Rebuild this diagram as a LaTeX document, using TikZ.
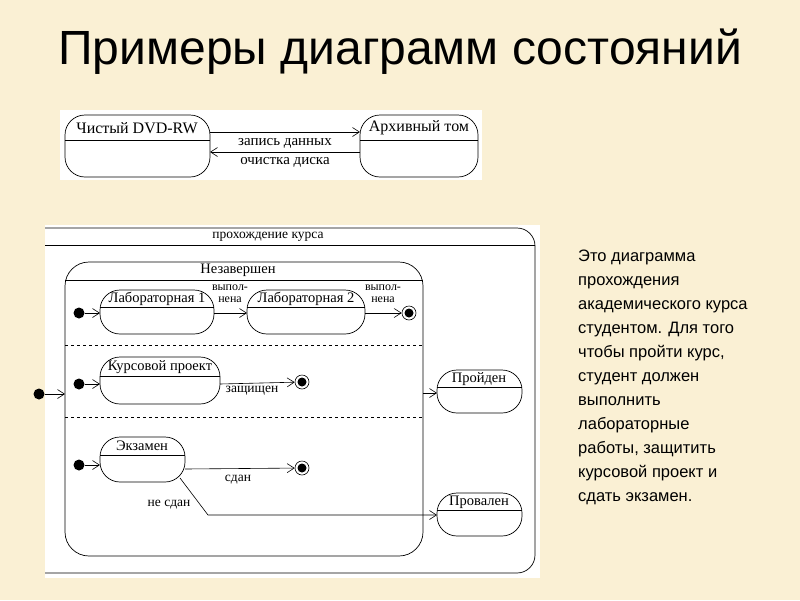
\documentclass[tikz,border=0pt]{standalone}
\usepackage{fontspec}
\setmainfont{Liberation Serif}
\newfontfamily\arialf{Liberation Sans}
\usetikzlibrary{arrows.meta}
\definecolor{parch}{RGB}{250,240,212}
\tikzset{
 st/.style={draw,rounded corners=20pt,line width=0.7pt},
 hd/.style={line width=0.7pt},
 tr/.style={line width=0.6pt,-{Straight Barb[length=7pt,width=9pt]}},
 lbl/.style={font=\fontsize{13.5}{13}\selectfont,align=center,inner sep=1pt},
 nm/.style={font=\fontsize{14.5}{15}\selectfont,inner sep=1pt},
 ini/.style={circle,fill=black,minimum size=11pt,inner sep=0pt},
 fin/.style={circle,draw,line width=0.6pt,minimum size=14pt,inner sep=0pt,path picture={\fill (path picture bounding box.center) circle (4.5pt);}}
}
\begin{document}
\begin{tikzpicture}[x=1pt,y=-1pt]
\fill[parch] (0,0) rectangle (800,600);
\useasboundingbox (0,0) rectangle (800,600);
\node[font=\arialf\fontsize{48}{48}\selectfont] (title) at (400,52) {Примеры диаграмм состояний};
% top image
\fill[white] (60,110) rectangle (482,180);
\draw[st] (65,115) rectangle (210,177);
\draw[hd] (65,140) -- (210,140);
\node[nm,font=\fontsize{16}{16}\selectfont] (dvd) at (137,128) {Чистый DVD-RW};
\draw[st] (360,115) rectangle (478,177);
\draw[hd] (360,140) -- (478,140);
\node[nm,font=\fontsize{16}{16}\selectfont] (arch) at (419,128) {Архивный том};
\coordinate (a1) at (210,132); \coordinate (b1) at (360,132);
\coordinate (a2) at (360,152); \coordinate (b2) at (210,152);
\draw[tr] (a1) -- (b1);
\draw[tr] (a2) -- (b2);
\node[lbl,font=\fontsize{15}{15}\selectfont] (l1) at (285,143) {запись данных};
\node[lbl,font=\fontsize{15}{15}\selectfont] (l2) at (285,162) {очистка диска};
% lower image
\fill[white] (45,225) rectangle (540,578);
\begin{scope}
\clip (45,225) rectangle (540,578);
\draw[st,rounded corners=18pt] (20,228) rectangle (535,573);
\end{scope}
\draw[hd] (45,245) -- (535,245);
\node[lbl] (pk) at (268,237) {прохождение курса};
\draw[st,rounded corners=24pt] (65,262) rectangle (423,556);
\draw[hd] (65,280) -- (423,280);
\node[nm] (nz) at (238,270) {Незавершен};
\draw[dashed,line width=0.7pt] (65,345) -- (423,345);
\draw[dashed,line width=0.6pt] (65,417) -- (423,417);
% row1
\node[ini] (i1) at (79,313) {};
\draw[st] (100,290) rectangle (214,334); \draw[hd] (100,307) -- (214,307);
\node[nm] (lab1) at (157,299) {Лабораторная 1};
\draw[st] (247,290) rectangle (365,334); \draw[hd] (247,307) -- (365,307);
\node[nm] (lab2) at (306,299) {Лабораторная 2};
\node[fin] (f1) at (409,313) {};
\coordinate (lab1e) at (214,313); \coordinate (lab1w) at (100,313);
\coordinate (lab2w) at (247,313); \coordinate (lab2e) at (365,313);
\draw[tr] (i1) -- (lab1w);
\draw[tr] (lab1e) -- (lab2w);
\draw[tr] (lab2e) -- (f1);
\node[lbl,font=\fontsize{12}{12}\selectfont] (v1) at (230,294) {выпол-\\нена};
\node[lbl,font=\fontsize{12}{12}\selectfont] (v2) at (383,294) {выпол-\\нена};
% row2
\node[ini] (i2) at (79,384) {};
\draw[st] (100,357) rectangle (220,404); \draw[hd] (100,376) -- (220,376);
\node[nm] (kp) at (160,367) {Курсовой проект};
\coordinate (kpw) at (100,384); \coordinate (kpe) at (220,384);
\node[fin] (f2) at (302,382) {};
\draw[tr] (i2) -- (kpw);
\draw[tr] (kpe) -- (f2);
\node[lbl] (zq) at (252,391) {защищен};
% outer initial
\node[ini] (i0) at (39,394) {};
\coordinate (nzw) at (65,394);
\draw[tr] (i0) -- (nzw);
% passed
\draw[st] (437,370) rectangle (522,413); \draw[hd] (437,387) -- (522,387);
\node[nm] (pr) at (479,379) {Пройден};
\coordinate (nze) at (423,393); \coordinate (prw) at (437,393);
\draw[tr] (nze) -- (prw);
% row3
\node[ini] (i3) at (79,465) {};
\draw[st] (100,437) rectangle (185,482); \draw[hd] (100,455) -- (185,455);
\node[nm] (ex) at (142,446) {Экзамен};
\coordinate (exw) at (100,465); \coordinate (exe) at (185,469);
\node[fin] (f3) at (302,468) {};
\draw[tr] (i3) -- (exw);
\draw[tr] (exe) -- (f3);
\node[lbl] (sd) at (238,480) {сдан};
\draw[st] (437,493) rectangle (522,536); \draw[hd] (437,510) -- (522,510);
\node[nm] (pv) at (479,502) {Провален};
\coordinate (exs) at (180,478); \coordinate (bend) at (208,515); \coordinate (pvw) at (437,515);
\draw[tr] (exs) -- (bend) -- (pvw);
\node[lbl] (ns) at (169,505) {не сдан};
% text
\node[font=\arialf\fontsize{16.5}{24}\selectfont,align=left,anchor=north west,inner sep=0pt] (txt) at (578,250) {Это диаграмма\\прохождения\\академического курса\\студентом. Для того\\чтобы пройти курс,\\студент должен\\выполнить\\лабораторные\\работы, защитить\\курсовой проект и\\сдать экзамен.};
\end{tikzpicture}
\end{document}
